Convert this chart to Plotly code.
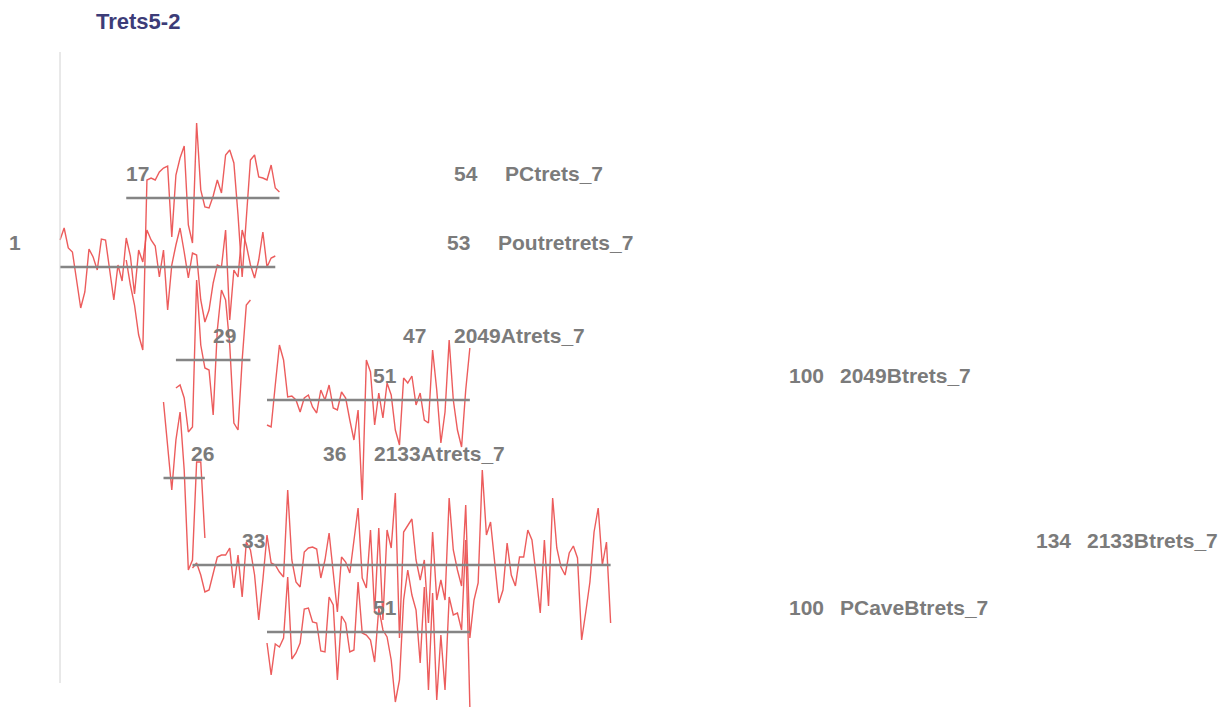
import plotly.graph_objects as go

# ---- data ----
title = "Trets5-2"
names = ["PCtrets_7", "Poutretrets_7", "2049Atrets_7", "2049Btrets_7",
         "2133Atrets_7", "2133Btrets_7", "PCaveBtrets_7"]
starts = [17, 1, 29, 51, 26, 33, 51]
ends = [54, 53, 47, 100, 36, 134, 100]
rows = [512, 443, 350, 310, 232, 145, 78]   # vertical position of each sample

pctrets = [-62, -87, -107, -137, -152, 18, 20, 18, 26, 30, 32, -39, 23, 40, 52, -27,
           -45, 75, 8, -9, -10, 2, 18, 5, 43, 48, 35, -17, -79, -19, 38, 43, 21, 20,
           18, 33, 10, 6]
poutretrets = [27, 39, 19, 15, -13, -41, -25, 18, 10, -3, 28, 27, -3, -33, 2, -14, 29,
               11, -27, 17, 5, 37, 27, 21, -10, 17, -43, 2, 22, 39, 15, -11, 14, 12,
               -33, -55, -43, -16, 2, 0, 37, -53, -3, -10, 37, 22, 2, -11, 7, 35, 0, 9, 11]
a2049 = [-28, -25, -38, -72, -67, 80, 15, -8, -10, -55, 30, 70, 60, 15, -63, -70, 0, 55, 60]
b2049 = [-25, -27, 15, 55, 40, 3, 4, 0, -12, 2, 5, -7, -13, 10, 0, 15, -8, -10, 8, 2,
         -20, -40, -10, -100, 40, 28, -25, 7, -18, 17, 5, -30, -45, 22, 17, 24, -5, 7,
         -20, -23, 50, 10, -43, -12, 60, 0, -30, -47, 10, 52]
a2133 = [76, 28, -12, 38, 66, 8, -92, -82, 16, 16, -60]
b2133 = [-3, 2, -10, -27, -25, -7, 8, 10, 10, 17, -23, 10, -32, 23, 15, -10, -55, -15,
         30, 2, 0, -7, -12, 75, 5, -17, -22, 13, 17, 18, 16, -13, 5, 32, -10, -47, 8, 3,
         -8, 25, 57, -13, -23, 35, -48, 37, -55, 35, 17, 72, -73, 33, 40, 46, 5, -15, 5,
         -58, 33, -35, -15, -35, 67, 15, -5, -21, 60, -73, -35, -18, 95, 30, 43, 5, -38,
         -25, 22, -10, -21, 8, 8, 35, 25, -10, -48, 25, -41, 67, 17, -2, -10, 12, 19, 7,
         -75, -47, -17, 33, 57, 0, 23, -58]
pcaveb = [-11, -43, -12, -15, -6, 55, -27, -21, -11, 23, 24, 10, 9, -19, -20, 35, 27,
          -48, 16, 9, -20, -18, 50, -1, -3, -8, -30, 24, 2, -5, -28, -70, -48, 32, 62,
          37, 22, -31, 45, -58, 39, -68, -3, -58, 35, 17, 19, 2, 92, -75]
series = [pctrets, poutretrets, a2049, b2049, a2133, b2133, pcaveb]

# ---- styles ----
RED = "rgba(234,78,78,0.92)"
GREY = "#858585"
LABEL = "#7b7b7b"
FONT = "Liberation Sans"
W, H = 1219, 702

fig = go.Figure()

for name, s, e, r, vals in zip(names, starts, ends, rows, series):
    xs = [s + i for i in range(len(vals))]
    ys = [r + v for v in vals]
    fig.add_trace(go.Scatter(x=xs, y=ys, mode="lines",
                             line=dict(color=RED, width=1.4), hoverinfo="skip"))

for name, s, e, r in zip(names, starts, ends, rows):
    fig.add_trace(go.Scatter(x=[s, e], y=[r, r], mode="lines",
                             line=dict(color=GREY, width=2.6), hoverinfo="skip"))

ann = []
for name, s, e, r in zip(names, starts, ends, rows):
    f = dict(family=FONT, size=21, color=LABEL, weight="bold")
    ann.append(dict(x=s, y=r + 25, xref="x2", yref="y", text=str(s), showarrow=False,
                    xanchor="left", yanchor="middle", font=f, borderpad=0))
    ann.append(dict(x=e, y=r + 25, xref="x2", yref="y", text=str(e), showarrow=False,
                    xanchor="left", yanchor="middle", font=f, xshift=59.5, borderpad=0))
    ann.append(dict(x=e, y=r + 25, xref="x2", yref="y", text=name, showarrow=False,
                    xanchor="left", yanchor="middle", font=f, xshift=110.5, borderpad=0))

ann.append(dict(x=87 / W, y=1, xref="paper", yref="paper", text=title,
                showarrow=False, xanchor="left", yanchor="top", borderpad=0,
                font=dict(family=FONT, size=22, color="#3c3c78", weight="bold")))

# dummy trace to activate x2
fig.add_trace(go.Scatter(x=[1], y=[-100], xaxis="x2", mode="markers",
                         marker=dict(opacity=0), hoverinfo="skip"))

shapes = [
    dict(type="line", xref="x", yref="y", x0=1, x1=1, y0=27, y1=658,
         line=dict(color="#d2d2d2", width=1)),
    dict(type="line", xref="x", yref="y", x0=281.2, x1=281.2, y0=27, y1=658,
         line=dict(color="#f0f0f0", width=1)),
]

fig.update_layout(
    width=W, height=H,
    margin=dict(l=0, r=0, t=0, b=0),
    paper_bgcolor="white", plot_bgcolor="white",
    showlegend=False, hovermode=False,
    xaxis=dict(range=[1 - 52 / 4.14, 1 + (W - 52) / 4.14], visible=False, fixedrange=True),
    xaxis2=dict(range=[1 - 0.3 / 7.27, 1 + (W - 0.3) / 7.27], visible=False, overlaying="x",
                fixedrange=True),
    yaxis=dict(range=[0, H], visible=False, fixedrange=True),
    annotations=ann, shapes=shapes,
)

fig.write_html("out.html")
